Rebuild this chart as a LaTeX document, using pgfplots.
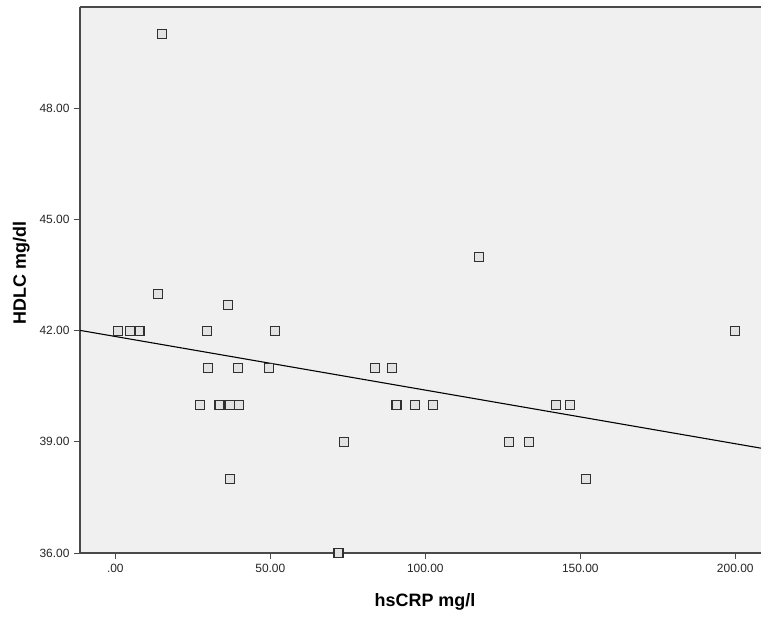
\documentclass[border=0pt]{standalone}
\usepackage{pgfplots}
\pgfplotsset{compat=1.18}
\usepackage{fontspec}
\setmainfont{Liberation Sans}
\definecolor{bgc}{HTML}{F0F0F0}
\definecolor{axc}{HTML}{4A4A4A}
\definecolor{mkc}{HTML}{303030}
\definecolor{mkf}{HTML}{E2E2E2}
\begin{document}
\begin{tikzpicture}[x=1bp,y=1bp]
\begin{axis}[
  scale only axis,
  width=681bp, height=546bp,
  xmin=-11.4, xmax=208.3,
  ymin=36, ymax=50.74,
  axis x line*=bottom, axis y line*=left,
  axis line style={-, draw=axc, line width=1.1pt},
  axis background/.style={fill=bgc},
  xtick={0,50,100,150,200},
  xticklabels={.00,50.00,100.00,150.00,200.00},
  ytick={36,39,42,45,48},
  yticklabels={36.00,39.00,42.00,45.00,48.00},
  tick align=outside,
  major tick length=6bp,
  tick style={draw=axc, line width=1pt},
  ticklabel style={font=\fontsize{12}{14}\selectfont, text=black!85},
  xticklabel style={yshift=-2bp},
  yticklabel style={xshift=-1bp},
  xlabel={\textbf{hsCRP mg/l}},
  ylabel={\textbf{HDLC mg/dl}},
  label style={font=\fontsize{18}{20}\selectfont},
  xlabel style={at={(axis description cs:0.5066,-0.0897)}, anchor=center},
  ylabel style={at={(axis description cs:-0.0862,0.5128)}, anchor=center},
  clip=false,
]
\addplot[only marks, mark=square*, mark size=4.5bp,
  mark options={draw=mkc, fill=mkf, line width=1.1pt}] coordinates {
  (15,50) (13.9,43) (1,42) (4.6,42) (7.8,42) (29.7,42) (51.6,42) (36.3,42.7)
  (30,41) (39.5,41) (49.7,41) (27.2,40) (33.6,40) (36.9,40) (39.8,40)
  (36.9,38) (73.9,39) (72,36) (83.7,41) (89.2,41) (90.7,40) (96.8,40)
  (102.6,40) (117.4,44) (127,39) (133.5,39) (142.2,40) (146.7,40)
  (151.9,38) (200,42)
};
\addplot[black, line width=1.1pt] coordinates {(-11.4,42.01) (208.3,38.83)};
\draw[axc, line width=1.1pt] (rel axis cs:0,1) -- (rel axis cs:1,1);
\end{axis}
\pgfresetboundingbox
\path ([xshift=-80bp,yshift=-65bp]current axis.south west) rectangle ([yshift=7bp]current axis.north east);
\end{tikzpicture}
\end{document}
